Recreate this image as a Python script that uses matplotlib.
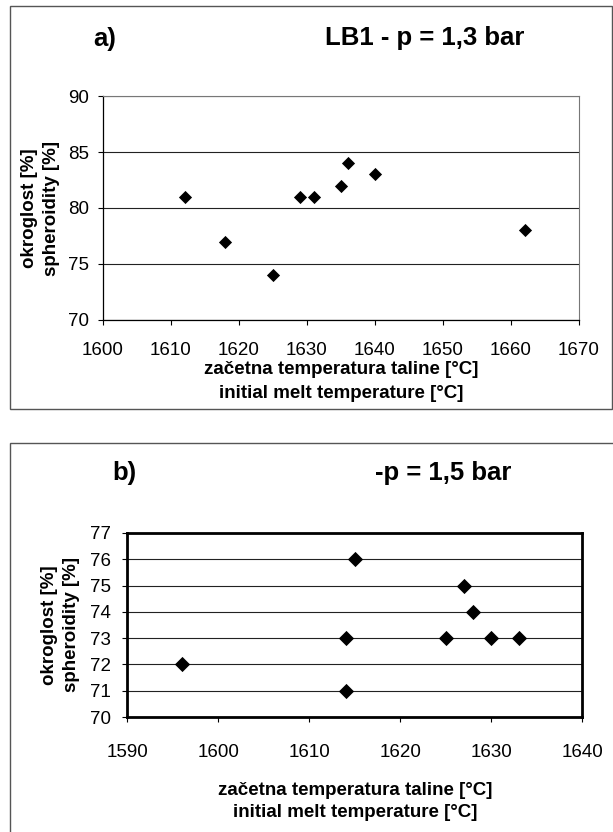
import numpy as np
import matplotlib.pyplot as plt
from matplotlib.patches import Rectangle

plt.rcParams['font.family'] = ['Liberation Sans', 'DejaVu Sans']

# panel a) LB1 - p = 1,3 bar
temp_a = [1612, 1618, 1625, 1629, 1631, 1635, 1636, 1640, 1662]
sph_a = [81, 77, 74, 81, 81, 82, 84, 83, 78]
xticks_a = [1600, 1610, 1620, 1630, 1640, 1650, 1660, 1670]
yticks_a = [70, 75, 80, 85, 90]

# panel b) -p = 1,5 bar
temp_b = [1596, 1614, 1614, 1615, 1625, 1627, 1628, 1630, 1633]
sph_b = [72, 71, 73, 76, 73, 75, 74, 73, 73]
xticks_b = [1590, 1600, 1610, 1620, 1630, 1640]
yticks_b = [70, 71, 72, 73, 74, 75, 76, 77]

xlab = 'začetna temperatura taline [°C]\ninitial melt temperature [°C]'
ylab = 'okroglost [%]\nspheroidity [%]'

fig = plt.figure(figsize=(6.13, 8.32), dpi=100)

# outer frames
fig.patches.append(Rectangle((0.016, 0.509), 0.982, 0.484, transform=fig.transFigure,
                             fill=False, edgecolor='#555555', lw=1.0))
fig.patches.append(Rectangle((0.016, -0.01), 0.99, 0.478, transform=fig.transFigure,
                             fill=False, edgecolor='#555555', lw=1.0))

# ---- a)
ax1 = fig.add_axes([0.168, 0.6154, 0.7765, 0.2692])
ax1.scatter(temp_a, sph_a, marker='D', s=45, color='black', lw=0, zorder=3)
ax1.set_xlim(1600, 1670)
ax1.set_ylim(70, 90)
ax1.set_xticks(xticks_a)
ax1.set_yticks(yticks_a)
ax1.yaxis.grid(True, color='#222222', lw=0.8)
ax1.set_axisbelow(True)
for s in ['top', 'right']:
    ax1.spines[s].set_color('#777777')
    ax1.spines[s].set_linewidth(0.8)
for s in ['left', 'bottom']:
    ax1.spines[s].set_linewidth(0.9)
ax1.tick_params(labelsize=13.5, direction='out', length=3.5)
ax1.tick_params(axis='x', pad=12)
ax1.tick_params(axis='y', pad=6.5)
ax1.set_xlabel(xlab, fontsize=13.5, fontweight='bold', labelpad=2, linespacing=1.5)
ax1.set_ylabel(ylab, fontsize=13.5, fontweight='bold', labelpad=5.5, linespacing=1.4)
fig.text(0.152, 0.953, 'a)', fontsize=18.5, fontweight='bold', va='center')
fig.text(0.530, 0.954, 'LB1 - p = 1,3 bar', fontsize=18.5, fontweight='bold', va='center')

# ---- b)
ax2 = fig.add_axes([0.2072, 0.1382, 0.743, 0.2212])
ax2.scatter(temp_b, sph_b, marker='D', s=60, color='black', lw=0, zorder=3)
ax2.set_xlim(1590, 1640)
ax2.set_ylim(70, 77)
ax2.set_xticks(xticks_b)
ax2.set_yticks(yticks_b)
ax2.yaxis.grid(True, color='#222222', lw=0.8)
ax2.set_axisbelow(True)
for s in ax2.spines.values():
    s.set_linewidth(2.0)
ax2.tick_params(labelsize=13.5, direction='out', length=3.5)
ax2.tick_params(axis='x', pad=16)
ax2.tick_params(axis='y', pad=8)
ax2.set_xlabel(xlab, fontsize=13.5, fontweight='bold', labelpad=15, linespacing=1.4)
ax2.set_ylabel(ylab, fontsize=13.5, fontweight='bold', labelpad=7, linespacing=1.4)
fig.text(0.184, 0.4315, 'b)', fontsize=18.5, fontweight='bold', va='center')
fig.text(0.612, 0.4315, '-p = 1,5 bar', fontsize=18.5, fontweight='bold', va='center')

fig.savefig('out.png', dpi=100)
